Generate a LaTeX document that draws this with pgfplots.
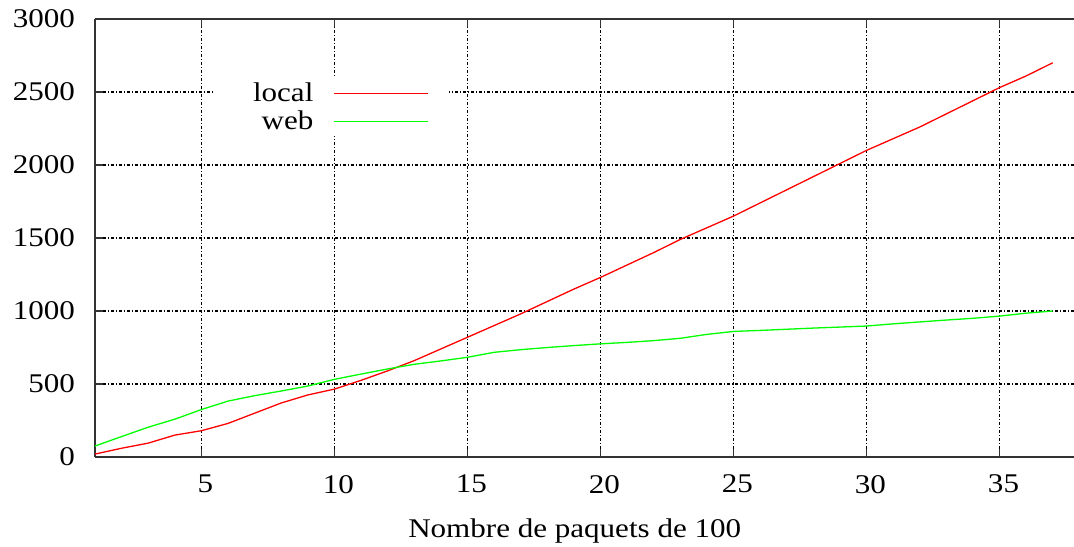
\documentclass[border=0pt]{standalone}
\usepackage{fontspec}
\setmainfont{Liberation Serif}[FakeStretch=1.15]
\usepackage{pgfplots}
\pgfplotsset{compat=1.18}
\usetikzlibrary{calc}

\pgfplotstableread{
n local web
1 20 75
2 60 140
3 95 204
4 150 259
5 180 325
6 230 383
7 300 420
8 370 452
9 425 486
10 465 532
11 525 568
12 590 603
13 660 635
14 740 658
15 820 683
16 900 717
17 980 735
18 1065 750
19 1150 763
20 1230 775
21 1315 785
22 1400 797
23 1490 813
24 1570 840
25 1650 860
26 1740 867
27 1830 875
28 1920 883
29 2010 890
30 2100 897
31 2180 912
32 2260 925
33 2350 938
34 2440 950
35 2530 965
36 2610 985
37 2700 1000
}\paquets

\begin{document}
\begin{tikzpicture}
\begin{axis}[
    name=ax,
    scale only axis,
    width=489.5pt, height=219pt,
    xmin=1, xmax=37.8,
    ymin=0, ymax=3000,
    xtick={5,10,...,35},
    ytick={0,500,...,3000},
    axis x line*=box,
    axis y line*=left,
    axis line style={black!80, line width=0.6pt},
    tick style={black!80, line width=0.6pt},
    tick align=inside,
    major tick length=4pt,
    grid=major,
    grid style={black, line width=0.55pt, dash pattern=on 1.5pt off 1pt on 0.5pt off 1pt},
    font=\fontsize{13.5}{15}\selectfont,
    /pgf/number format/assume math mode=true,
    /pgf/number format/set thousands separator={},
    yticklabel style={xshift=-6.5pt},
    xticklabel style={yshift=-5.5pt, xshift=2pt},
    xlabel={Nombre de paquets de 100},
    xlabel style={at={(axis description cs:0.49,0)}, anchor=base, yshift=-40.5pt},
    legend plot pos=right,
    legend cell align=right,
    legend image code/.code={\draw[#1] (0pt,0pt) -- (47pt,0pt);},
    legend style={
        at={(rel axis cs:0.1205,0.8653)}, anchor=north west,
        fill=white, draw=none,
        inner xsep=10pt, inner ysep=2pt,
        column sep=10pt, row sep=3.2pt,
        nodes={inner sep=0pt, text width=40pt, align=right},
        font=\fontsize{13.5}{15}\selectfont,
    },
]
\addplot[red, line width=0.65pt] table[x=n, y=local] {\paquets};
\addlegendentry{local}
\addplot[green, line width=0.65pt] table[x=n, y=web] {\paquets};
\addlegendentry{web}
\end{axis}
\pgfresetboundingbox
\path[use as bounding box] ($(ax.south west)+(-47.5pt,-45pt)$) rectangle ($(ax.north east)+(0pt,9.5pt)$);
\end{tikzpicture}
\end{document}
